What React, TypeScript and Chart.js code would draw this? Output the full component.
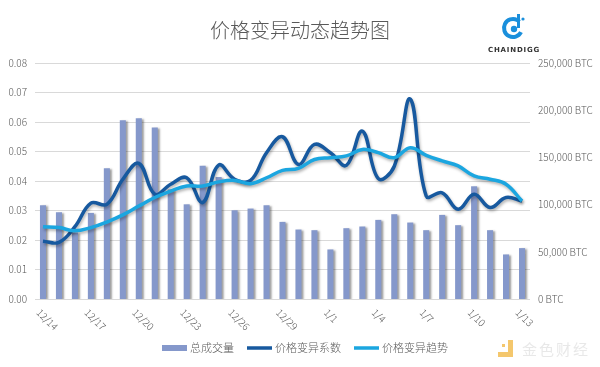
import React, { useEffect, useRef } from 'react';
import { Chart, registerables } from 'chart.js';

Chart.register(...registerables);

const categories = [
  '12/14', '12/15', '12/16', '12/17', '12/18', '12/19', '12/20', '12/21', '12/22', '12/23',
  '12/24', '12/25', '12/26', '12/27', '12/28', '12/29', '12/30', '12/31',
  '1/1', '1/2', '1/3', '1/4', '1/5', '1/6', '1/7', '1/8', '1/9', '1/10', '1/11', '1/12', '1/13',
];

const xTickLabels = ['12/14', '12/17', '12/20', '12/23', '12/26', '12/29', '1/1', '1/4', '1/7', '1/10', '1/13'];

const volumeBTC = [
  99300, 91900, 70400, 91200, 138400, 189400, 191500, 181700, 116000, 100300,
  141200, 129200, 94000, 95800, 99300, 81700, 73600, 72900,
  52500, 75000, 76800, 83800, 89800, 81000, 72900, 89100, 78200, 119400, 72900, 47200, 53900,
];

const variationCoef = [
  0.0196, 0.0192, 0.0245, 0.0325, 0.0321, 0.0406, 0.046, 0.0355, 0.0389, 0.0411,
  0.0327, 0.0454, 0.0406, 0.0402, 0.0496, 0.055, 0.0456, 0.0524,
  0.0496, 0.0453, 0.0569, 0.0408, 0.045, 0.0678, 0.0349, 0.036, 0.0304, 0.0355, 0.031, 0.0344, 0.0332,
];

const variationTrend = [
  0.0245, 0.0242, 0.0231, 0.0242, 0.0261, 0.0285, 0.0315, 0.0344, 0.0366, 0.0383,
  0.0383, 0.0397, 0.0402, 0.0391, 0.0411, 0.0436, 0.0443, 0.0473,
  0.0479, 0.0485, 0.0507, 0.0496, 0.0479, 0.0513, 0.0487, 0.0468, 0.0451, 0.0417, 0.0406, 0.0389, 0.0332,
];

const seriesNames = ['总成交量', '价格变异系数', '价格变异趋势'];
const titleText = '价格变异动态趋势图';

const FONT = '"Noto Sans CJK SC", "Noto Sans", sans-serif';
const TEXT = '#595959';
const BAR = '#8598cb';
const DARK = '#17599f';
const LIGHT = '#1ba6e0';

const shadowPlugin = {
  id: 'shadowPlugin',
  beforeDatasetDraw(chart: any, args: any) {
    const ctx = chart.ctx;
    ctx.save();
    const ds = chart.data.datasets[args.index];
    if (ds.type === 'bar') {
      ctx.shadowColor = 'rgba(40,40,40,0.45)';
      ctx.shadowBlur = 2;
      ctx.shadowOffsetX = 2;
      ctx.shadowOffsetY = 1;
    } else {
      ctx.shadowColor = 'rgba(0,0,0,0.3)';
      ctx.shadowBlur = 3;
      ctx.shadowOffsetX = 1;
      ctx.shadowOffsetY = 2;
    }
  },
  afterDatasetDraw(chart: any) {
    chart.ctx.restore();
  },
};

const decorPlugin = {
  id: 'decorPlugin',
  afterDraw(chart: any) {
    const ctx = chart.ctx;
    const xs = chart.scales.x;
    const area = chart.chartArea;
    // rotated x labels
    ctx.save();
    ctx.fillStyle = TEXT;
    ctx.font = `300 10px ${FONT}`;
    ctx.textAlign = 'left';
    ctx.textBaseline = 'top';
    categories.forEach((c, i) => {
      if (!xTickLabels.includes(c)) return;
      const x = xs.getPixelForValue(i);
      ctx.save();
      ctx.translate(x - 1, area.bottom + 8);
      ctx.rotate(Math.PI / 4);
      ctx.fillText(c, 0, 0);
      ctx.restore();
    });
    ctx.restore();

    // legend
    ctx.save();
    ctx.font = `300 11px ${FONT}`;
    const boxW = 25;
    const gap = 3;
    const itemGap = 13;
    const items = chart.data.datasets.map((d: any) => ({
      label: d.label,
      color: d.type === 'bar' ? d.backgroundColor : d.borderColor,
      isBar: d.type === 'bar',
      w: ctx.measureText(d.label).width,
    }));
    const total = items.reduce((s: number, it: any) => s + boxW + gap + it.w, 0) + itemGap * (items.length - 1);
    let cx = 300 - total / 2 + 5;
    const cy = 348;
    ctx.textBaseline = 'middle';
    ctx.textAlign = 'left';
    items.forEach((it: any) => {
      ctx.fillStyle = it.color;
      const h = it.isBar ? 6 : 3.5;
      ctx.fillRect(cx, cy - h / 2, boxW, h);
      ctx.fillStyle = TEXT;
      ctx.fillText(it.label, cx + boxW + gap, cy);
      cx += boxW + gap + it.w + itemGap;
    });
    ctx.restore();

    // ChainDigg logo
    ctx.save();
    const lx = 513;
    const ly = 28;
    ctx.strokeStyle = '#1a8fdc';
    ctx.lineWidth = 4;
    ctx.beginPath();
    ctx.arc(lx, ly, 9, Math.PI * 0.15, Math.PI * 1.75);
    ctx.stroke();
    ctx.fillStyle = '#1a8fdc';
    ctx.beginPath();
    ctx.arc(lx + 1, ly + 1, 3.2, 0, Math.PI * 2);
    ctx.fill();
    ctx.fillRect(lx + 4, ly - 14, 3, 14);
    ctx.beginPath();
    ctx.arc(lx + 10, ly - 9, 1.6, 0, Math.PI * 2);
    ctx.fill();
    ctx.fillStyle = '#333333';
    ctx.font = `bold 7px "DejaVu Sans", sans-serif`;
    (ctx as any).letterSpacing = '0.8px';
    ctx.textAlign = 'center';
    ctx.textBaseline = 'middle';
    ctx.fillText('CHAINDIGG', lx + 1, 50);
    ctx.restore();

    // watermark
    ctx.save();
    ctx.globalAlpha = 0.75;
    ctx.fillStyle = '#f0b43c';
    ctx.fillRect(508, 340, 5, 17);
    ctx.fillRect(498, 352, 10, 5);
    ctx.fillRect(502, 344, 3, 3);
    ctx.globalAlpha = 1;
    ctx.fillStyle = 'rgba(205,205,205,0.45)';
    ctx.font = `15px ${FONT}`;
    (ctx as any).letterSpacing = '2px';
    ctx.textAlign = 'left';
    ctx.textBaseline = 'middle';
    ctx.fillText('金色财经', 522, 349);
    ctx.restore();
  },
};

export default function App() {
  const ref = useRef<HTMLCanvasElement | null>(null);

  useEffect(() => {
    document.body.style.margin = '0';
    if (!ref.current) return;
    const chart = new Chart(ref.current, {
      type: 'bar',
      data: {
        labels: categories,
        datasets: [
          {
            type: 'bar',
            label: seriesNames[0],
            data: volumeBTC,
            yAxisID: 'yR',
            backgroundColor: BAR,
            barPercentage: 0.4,
            categoryPercentage: 0.95,
            order: 2,
          } as any,
          {
            type: 'line',
            label: seriesNames[1],
            data: variationCoef,
            yAxisID: 'y',
            borderColor: DARK,
            backgroundColor: DARK,
            borderWidth: 3.5,
            pointRadius: 0,
            tension: 0.4,
            fill: false,
            order: 1,
          } as any,
          {
            type: 'line',
            label: seriesNames[2],
            data: variationTrend,
            yAxisID: 'y',
            borderColor: LIGHT,
            backgroundColor: LIGHT,
            borderWidth: 3.5,
            pointRadius: 0,
            tension: 0.4,
            fill: false,
            order: 0,
          } as any,
        ],
      },
      options: {
        animation: false,
        responsive: false,
        maintainAspectRatio: false,
        layout: { padding: { top: 0, left: 0, right: 0, bottom: 38 } },
        plugins: {
          legend: { display: false },
          tooltip: { enabled: false },
          title: {
            display: true,
            text: titleText,
            color: TEXT,
            font: { family: FONT, size: 20, weight: 300 as any },
            padding: { top: 18, bottom: 21 },
          },
        },
        scales: {
          x: {
            grid: { display: false },
            border: { display: false },
            ticks: { display: false },
            afterFit: (s: any) => { s.height = 30; },
          },
          y: {
            position: 'left',
            min: 0,
            max: 0.08,
            ticks: {
              stepSize: 0.01,
              color: TEXT,
              font: { family: FONT, size: 10, weight: 300 as any },
              padding: 8,
              callback: (v: any) => Number(v).toFixed(2),
            },
            grid: { color: '#d9d9d9', drawTicks: false, lineWidth: 1 },
            border: { display: false },
            afterFit: (s: any) => { s.width = 35; },
          },
          yR: {
            position: 'right',
            min: 0,
            max: 250000,
            ticks: {
              stepSize: 50000,
              color: TEXT,
              font: { family: FONT, size: 10, weight: 300 as any },
              padding: 8,
              callback: (v: any) => Number(v).toLocaleString('en-US') + ' BTC',
            },
            grid: { display: false, drawTicks: false },
            border: { display: false },
            afterFit: (s: any) => { s.width = 70; },
          },
        },
      },
      plugins: [shadowPlugin, decorPlugin],
    });
    return () => chart.destroy();
  }, []);

  return (
    <div style={{ position: 'absolute', left: 0, top: 0, width: 600, height: 367, background: '#fff' }}>
      <canvas ref={ref} width={600} height={367} style={{ width: 600, height: 367, display: 'block' }} />
    </div>
  );
}
